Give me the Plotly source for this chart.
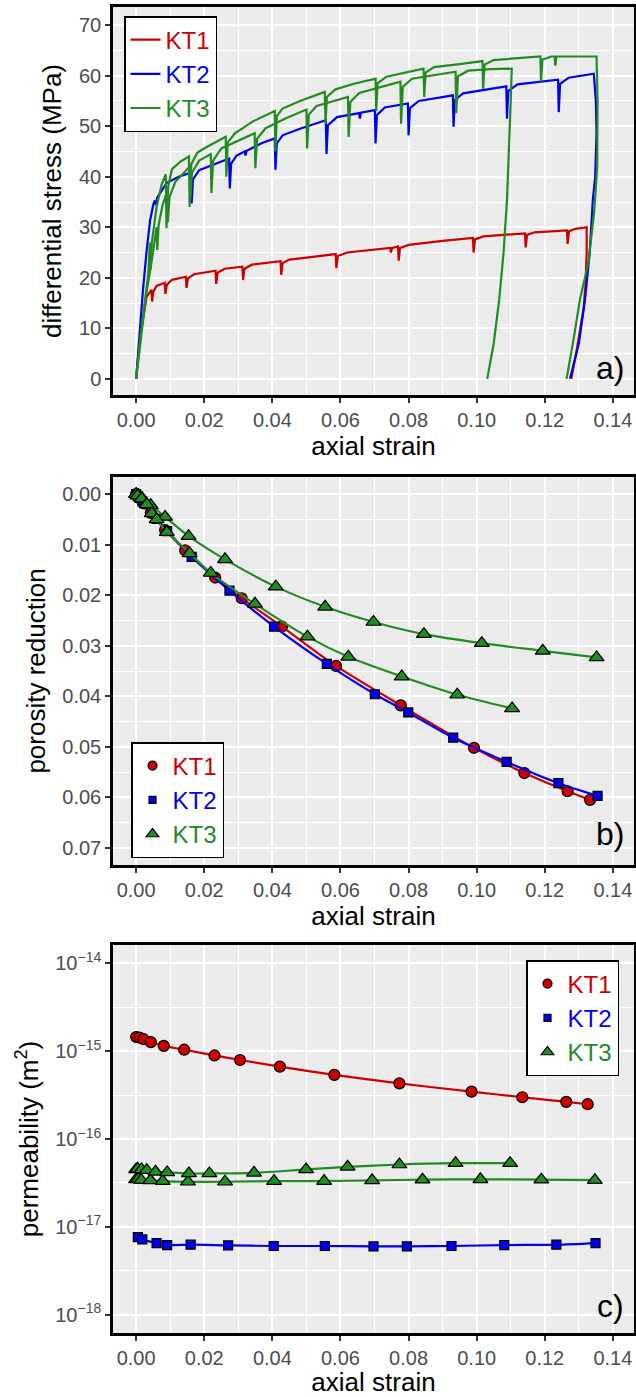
import plotly.graph_objects as go

# ---------------- Panel a: stress-strain curves ----------------
kt1_strain = [0, 0.0008, 0.0018, 0.0026, 0.0031,
              0.0045, 0.0047, 0.0050, 0.0060,
              0.0084, 0.0086, 0.0090, 0.0105,
              0.0146, 0.0148, 0.0152, 0.0170,
              0.0233, 0.0235, 0.0239, 0.0260,
              0.0312, 0.0314, 0.0318, 0.0340,
              0.0424, 0.0426, 0.0430, 0.0450,
              0.0500,
              0.0586, 0.0588, 0.0592, 0.0620,
              0.0746, 0.0748, 0.0752,
              0.0769, 0.0771, 0.0775, 0.0800,
              0.0900,
              0.0989, 0.0991, 0.0995, 0.1020,
              0.1142, 0.1144, 0.1148, 0.1170,
              0.1265, 0.1267, 0.1271, 0.1290,
              0.1323,
              0.1323, 0.1320, 0.1314, 0.1303, 0.1292, 0.1278]
kt1_stress = [0, 6, 11, 14, 16.3,
              17.6, 15.3, 17.2, 18.4,
              19.0, 16.8, 18.6, 19.6,
              20.2, 18.0, 19.9, 20.7,
              21.4, 18.8, 21.0, 21.8,
              22.2, 19.6, 21.8, 22.6,
              23.3, 20.6, 22.9, 23.6,
              24.0,
              24.7, 21.9, 24.3, 25.0,
              25.9, 25.0, 25.9,
              26.2, 23.4, 25.9, 26.5,
              27.3,
              27.9, 25.0, 27.6, 28.2,
              28.8, 26.0, 28.5, 29.0,
              29.4, 26.7, 29.2, 29.7,
              30.0,
              25, 19, 14, 9, 5, 0]

kt2_strain = [0, 0.0010, 0.0020, 0.0031, 0.0041, 0.0051,
              0.0055, 0.0058, 0.0062,
              0.0090, 0.0125, 0.0160,
              0.0161, 0.0163, 0.0167, 0.0185,
              0.0230, 0.0273,
              0.0275, 0.0279, 0.0295,
              0.0319, 0.0321, 0.0324,
              0.0370, 0.0407,
              0.0409, 0.0413, 0.0430,
              0.0481, 0.0557,
              0.0559, 0.0563, 0.0590,
              0.0655, 0.0657, 0.0660,
              0.0701, 0.0703, 0.0707, 0.0730,
              0.0798, 0.0800, 0.0804, 0.0830,
              0.0930, 0.0932, 0.0936, 0.0960,
              0.1087, 0.1089, 0.1093, 0.1120,
              0.1239, 0.1241, 0.1245, 0.1270,
              0.1344,
              0.1350, 0.1352, 0.1348, 0.1341, 0.1332, 0.1318, 0.1300, 0.1274]
kt2_stress = [0, 9.7, 17.6, 25.5, 31.4, 34.7,
              35.3, 34.4, 35.9,
              38.8, 40.0, 40.8,
              40.8, 34.7, 39.5, 41.3,
              42.4, 43.6,
              37.7, 42.6, 44.2,
              45.0, 44.2, 45.1,
              46.7, 47.6,
              41.4, 46.6, 48.2,
              49.5, 51.2,
              44.5, 50.2, 51.8,
              52.6, 51.5, 52.7,
              53.2, 46.6, 52.2, 53.7,
              54.5, 48.2, 53.6, 55.0,
              56.1, 49.9, 55.2, 56.5,
              57.9, 51.5, 57.0, 58.3,
              59.2, 52.8, 58.4, 59.6,
              60.4,
              55, 48.6, 40, 35.4, 25, 15.6, 7, 0]

kt3a_strain = [0, 0.0012, 0.0025, 0.0036, 0.0040,
               0.0042, 0.0046, 0.0060, 0.0075, 0.0087,
               0.0089, 0.0094, 0.0105, 0.0130, 0.0155,
               0.0157, 0.0162, 0.0180, 0.0207, 0.0263,
               0.0265, 0.0269, 0.0290, 0.0344, 0.0407,
               0.0409, 0.0413, 0.0430, 0.0481, 0.0554,
               0.0556, 0.0560, 0.0585, 0.0640, 0.0703,
               0.0705, 0.0709, 0.0735, 0.0844,
               0.0846, 0.0850, 0.0875, 0.0950, 0.1017,
               0.1019, 0.1023, 0.1050, 0.1187,
               0.1189, 0.1193, 0.1220, 0.1229, 0.1231, 0.1234, 0.1352,
               0.1355, 0.1354, 0.1345, 0.1328, 0.1303, 0.1285, 0.1264]
kt3a_stress = [0, 8, 15, 21, 27,
               21.5, 27, 34, 38.5, 40.5,
               29.8, 38, 41.5, 43, 44,
               34, 42.5, 44.8, 45.9, 47.9,
               40, 46.8, 48.6, 51.0, 53.0,
               45, 52, 53.5, 55.0, 56.8,
               50.5, 55.8, 57.3, 58.4, 59.4,
               53, 58.5, 59.8, 61.4,
               55.8, 60.6, 61.7, 62.3, 62.9,
               57.4, 62.2, 63.1, 63.8,
               58.8, 63.2, 63.8, 63.8, 62.0, 63.8, 63.8,
               55, 42, 33, 23, 15.6, 8, 0]

kt3b_strain = [0, 0.0015, 0.0030, 0.0045, 0.0060,
               0.0062, 0.0066, 0.0078, 0.0091,
               0.0093, 0.0098, 0.0115, 0.0157,
               0.0159, 0.0164, 0.0185, 0.0219,
               0.0221, 0.0226, 0.0250, 0.0300, 0.0348,
               0.0350, 0.0355, 0.0380, 0.0440, 0.0500,
               0.0502, 0.0507, 0.0530, 0.0622,
               0.0624, 0.0629, 0.0655, 0.0776,
               0.0778, 0.0783, 0.0810, 0.0938,
               0.0940, 0.0945, 0.0975, 0.1040, 0.1103,
               0.1100, 0.1095, 0.1089, 0.1079, 0.1066, 0.1050, 0.1031]
kt3b_stress = [0, 9, 17, 23, 30,
               25.5, 30.5, 34.5, 37,
               31, 36, 39, 42.0,
               35.5, 40.8, 43.2, 44.5,
               36.8, 43.2, 45.6, 47.2, 48.6,
               41.7, 47.5, 49.6, 51.6, 53.3,
               45.6, 52.3, 54.0, 55.8,
               47.9, 54.8, 56.6, 58.8,
               50.5, 57.8, 59.4, 60.8,
               52.6, 59.9, 61.0, 61.3, 61.4,
               55, 45, 35.4, 25, 15.6, 7, 0]

# ---------------- Panel b: porosity reduction ----------------
b_kt1_strain = [0, 0.0005, 0.0010, 0.0022, 0.0043, 0.0085, 0.0144, 0.0232, 0.0310,
                0.0428, 0.0587, 0.0777, 0.0992, 0.1140, 0.1267, 0.1333]
b_kt1_por = [0, 0.0004, 0.0008, 0.0018, 0.0037, 0.0071, 0.0111, 0.0165, 0.0206,
             0.0262, 0.0340, 0.0418, 0.0502, 0.0552, 0.0588, 0.0605]
b_kt2_strain = [0, 0.0005, 0.0018, 0.0060, 0.0091, 0.0163, 0.0274, 0.0405, 0.0560,
                0.0701, 0.0799, 0.0931, 0.1088, 0.1240, 0.1355]
b_kt2_por = [0, 0.0004, 0.0014, 0.0049, 0.0073, 0.0124, 0.0191, 0.0262, 0.0336,
             0.0396, 0.0432, 0.0482, 0.0530, 0.0572, 0.0597]
b_kt3a_strain = [0, 0.0007, 0.0020, 0.0043, 0.0085, 0.0154, 0.0261, 0.0410, 0.0555,
                 0.0697, 0.0845, 0.1015, 0.1194, 0.1352]
b_kt3a_por = [0, 0.0002, 0.0010, 0.0022, 0.0045, 0.0083, 0.0129, 0.0183, 0.0223,
              0.0253, 0.0277, 0.0295, 0.0310, 0.0323]
b_kt3b_strain = [0, 0.0004, 0.0016, 0.0031, 0.0046, 0.0060, 0.0090, 0.0157, 0.0219,
                 0.0349, 0.0503, 0.0623, 0.0780, 0.0943, 0.1104]
b_kt3b_por = [0, 0.0003, 0.0009, 0.0020, 0.0038, 0.0050, 0.0075, 0.0117, 0.0156,
              0.0217, 0.0282, 0.0322, 0.0361, 0.0397, 0.0424]

# ---------------- Panel c: permeability ----------------
c_kt1_strain = [0, 0.0010, 0.0022, 0.0043, 0.0081, 0.0141, 0.0230, 0.0305, 0.0422,
                0.0582, 0.0773, 0.0985, 0.1134, 0.1263, 0.1326]
c_kt1_perm = [1.45e-15, 1.43e-15, 1.37e-15, 1.27e-15, 1.15e-15, 1.04e-15, 8.95e-16,
              7.94e-16, 6.67e-16, 5.37e-16, 4.30e-16, 3.46e-16, 2.99e-16, 2.65e-16, 2.49e-16]
c_kt2_strain = [0.0005, 0.0018, 0.0060, 0.0091, 0.0160, 0.0270, 0.0404, 0.0554,
                0.0697, 0.0795, 0.0926, 0.1081, 0.1234, 0.1349]
c_kt2_perm = [7.64e-18, 7.18e-18, 6.53e-18, 6.19e-18, 6.25e-18, 6.15e-18, 6.04e-18,
              6.04e-18, 5.99e-18, 5.99e-18, 6.04e-18, 6.19e-18, 6.25e-18, 6.53e-18]
c_kt3a_strain = [0, 0.0006, 0.0015, 0.0042, 0.0078, 0.0152, 0.0261, 0.0405, 0.0552,
                 0.0693, 0.0841, 0.1011, 0.1190, 0.1347]
c_kt3a_perm = [3.47e-17, 3.50e-17, 3.40e-17, 3.38e-17, 3.32e-17, 3.26e-17, 3.26e-17,
               3.32e-17, 3.32e-17, 3.38e-17, 3.44e-17, 3.47e-17, 3.44e-17, 3.40e-17]
c_kt3b_strain = [0, 0.0004, 0.0016, 0.0031, 0.0057, 0.0091, 0.0155, 0.0215, 0.0346,
                 0.0499, 0.0621, 0.0773, 0.0938, 0.1098]
c_kt3b_perm = [4.50e-17, 4.57e-17, 4.50e-17, 4.42e-17, 4.23e-17, 4.16e-17, 4.05e-17,
               4.05e-17, 4.12e-17, 4.50e-17, 4.82e-17, 5.12e-17, 5.30e-17, 5.30e-17]

x_ticks = [0, 0.02, 0.04, 0.06, 0.08, 0.10, 0.12, 0.14]
x_ticktext = ["0.00", "0.02", "0.04", "0.06", "0.08", "0.10", "0.12", "0.14"]
a_yticks = [0, 10, 20, 30, 40, 50, 60, 70]
b_yticks = [0, 0.01, 0.02, 0.03, 0.04, 0.05, 0.06, 0.07]
b_yticktext = ["0.00", "0.01", "0.02", "0.03", "0.04", "0.05", "0.06", "0.07"]
c_yticks = [1e-18, 1e-17, 1e-16, 1e-15, 1e-14]
c_yticktext = ["10<sup>\u221218</sup>", "10<sup>\u221217</sup>", "10<sup>\u221216</sup>",
               "10<sup>\u221215</sup>", "10<sup>\u221214</sup>"]
c_minor = [10 ** -17.5, 10 ** -16.5, 10 ** -15.5, 10 ** -14.5]

RED = "#CC0000"
BLUE = "#0000EE"
GREEN = "#228B22"
FONT = "Liberation Sans"

W, H = 636, 1397


def px2x(p):
    return p / W


def py2y(p):
    return 1 - p / H


fig = go.Figure()

# panel a traces
for name, xs, ys, col, show, grp in [
    ("KT1", kt1_strain, kt1_stress, RED, True, "a1"),
    ("KT2", kt2_strain, kt2_stress, BLUE, True, "a2"),
    ("KT3", kt3a_strain, kt3a_stress, GREEN, True, "a3"),
    ("KT3", kt3b_strain, kt3b_stress, GREEN, False, "a3"),
]:
    fig.add_trace(go.Scatter(
        x=xs, y=ys, mode="lines", line=dict(color=col, width=2.2),
        name=f"<span style='color:{col}'>{name}</span>", showlegend=show,
        legend="legend", legendgroup=grp, xaxis="x", yaxis="y"))

markers = {"KT1": ("circle", 11, RED), "KT2": ("square", 9, BLUE), "KT3": ("triangle-up", 13, GREEN)}

# panel b traces
for name, xs, ys, show, grp in [
    ("KT1", b_kt1_strain, b_kt1_por, True, "b1"),
    ("KT2", b_kt2_strain, b_kt2_por, True, "b2"),
    ("KT3", b_kt3a_strain, b_kt3a_por, True, "b3"),
    ("KT3", b_kt3b_strain, b_kt3b_por, False, "b3"),
]:
    sym, sz, col = markers[name]
    fig.add_trace(go.Scatter(
        x=xs, y=ys, mode="lines+markers",
        line=dict(color=col, width=2.2, shape="spline", smoothing=0.8),
        marker=dict(symbol=sym, size=sz, color=col, line=dict(color="black", width=1.2)),
        name=f"<span style='color:{col}'>{name}</span>", showlegend=False,
        legendgroup=grp, xaxis="x2", yaxis="y2"))
    if show:
        fig.add_trace(go.Scatter(
            x=[None], y=[None], mode="markers",
            marker=dict(symbol=sym, size=sz - 2, color=col, line=dict(color="black", width=1.2)),
            name=f"<span style='color:{col}'>{name}</span>", showlegend=True,
            legend="legend2", legendgroup=grp, xaxis="x2", yaxis="y2"))

# panel c traces
for name, xs, ys, show, grp in [
    ("KT1", c_kt1_strain, c_kt1_perm, True, "c1"),
    ("KT2", c_kt2_strain, c_kt2_perm, True, "c2"),
    ("KT3", c_kt3a_strain, c_kt3a_perm, True, "c3"),
    ("KT3", c_kt3b_strain, c_kt3b_perm, False, "c3"),
]:
    sym, sz, col = markers[name]
    fig.add_trace(go.Scatter(
        x=xs, y=ys, mode="lines+markers",
        line=dict(color=col, width=2.2, shape="spline", smoothing=0.8),
        marker=dict(symbol=sym, size=sz, color=col, line=dict(color="black", width=1.2)),
        name=f"<span style='color:{col}'>{name}</span>", showlegend=False,
        legendgroup=grp, xaxis="x3", yaxis="y3"))
    if show:
        fig.add_trace(go.Scatter(
            x=[None], y=[None], mode="markers",
            marker=dict(symbol=sym, size=sz - 2, color=col, line=dict(color="black", width=1.2)),
            name=f"<span style='color:{col}'>{name}</span>", showlegend=True,
            legend="legend3", legendgroup=grp, xaxis="x3", yaxis="y3"))

tickfont = dict(family=FONT, size=20, color="#4D4D4D")
titlefont = dict(family=FONT, size=26, color="black")

common_ax = dict(
    showline=True, linecolor="black", linewidth=2.5, mirror=True,
    ticks="outside", ticklen=5, tickwidth=1.5, tickcolor="#333333",
    showgrid=True, gridcolor="white", gridwidth=1.6,
    zeroline=False, tickfont=tickfont,
)

x_dom = [px2x(113), px2x(634)]
x_range = [-0.0068, 0.1462]


def xaxis(anchor, standoff):
    return dict(common_ax, domain=x_dom, range=x_range, anchor=anchor,
                tickmode="array", tickvals=x_ticks, ticktext=x_ticktext,
                minor=dict(dtick=0.01, tick0=0, showgrid=True, gridcolor="white", gridwidth=0.8, ticks=""),
                title=dict(text="axial strain", font=titlefont, standoff=standoff))


legend_common = dict(xanchor="left", yanchor="top", bgcolor="white", bordercolor="black",
                     borderwidth=1.5, font=dict(family=FONT, size=24), itemwidth=30,
                     tracegroupgap=0)

panel_label_font = dict(family=FONT, size=32, color="black")

fig.update_layout(
    width=W, height=H,
    margin=dict(l=0, r=0, t=0, b=0),
    paper_bgcolor="white",
    plot_bgcolor="#EBEBEB",
    font=dict(family=FONT),
    xaxis=xaxis("y", 3),
    xaxis2=xaxis("y2", 1),
    xaxis3=xaxis("y3", 0),
    yaxis=dict(common_ax, domain=[py2y(395), py2y(7)], range=[-3.2, 73.6], anchor="x",
               tickmode="array", tickvals=a_yticks,
               minor=dict(dtick=5, tick0=0, showgrid=True, gridcolor="white", gridwidth=0.8, ticks=""),
               title=dict(text="differential stress (MPa)", font=titlefont, standoff=10)),
    yaxis2=dict(common_ax, domain=[py2y(865), py2y(477)], range=[0.0734, -0.0034], anchor="x2",
                tickmode="array", tickvals=b_yticks, ticktext=b_yticktext,
                minor=dict(dtick=0.005, tick0=0, showgrid=True, gridcolor="white", gridwidth=0.8, ticks=""),
                title=dict(text="porosity reduction", font=titlefont, standoff=10)),
    yaxis3=dict(common_ax, type="log", domain=[py2y(1333), py2y(945)], range=[-18.21, -13.79],
                anchor="x3", tickmode="array", tickvals=c_yticks, ticktext=c_yticktext,
                minor=dict(tickmode="array", tickvals=c_minor, showgrid=True, gridcolor="white",
                           gridwidth=0.8, ticks=""),
                title=dict(text="permeability (m<sup>2</sup>)", font=titlefont, standoff=10)),
    legend=dict(legend_common, x=px2x(124), y=py2y(16)),
    legend2=dict(legend_common, x=px2x(131), y=py2y(742)),
    legend3=dict(legend_common, x=px2x(526), y=py2y(960)),
    annotations=[
        dict(text="a)", x=px2x(610), y=py2y(368), xref="paper", yref="paper",
             xanchor="center", yanchor="middle", showarrow=False, font=panel_label_font),
        dict(text="b)", x=px2x(610), y=py2y(834), xref="paper", yref="paper",
             xanchor="center", yanchor="middle", showarrow=False, font=panel_label_font),
        dict(text="c)", x=px2x(610), y=py2y(1306), xref="paper", yref="paper",
             xanchor="center", yanchor="middle", showarrow=False, font=panel_label_font),
    ],
)

fig.write_html("out.html")
